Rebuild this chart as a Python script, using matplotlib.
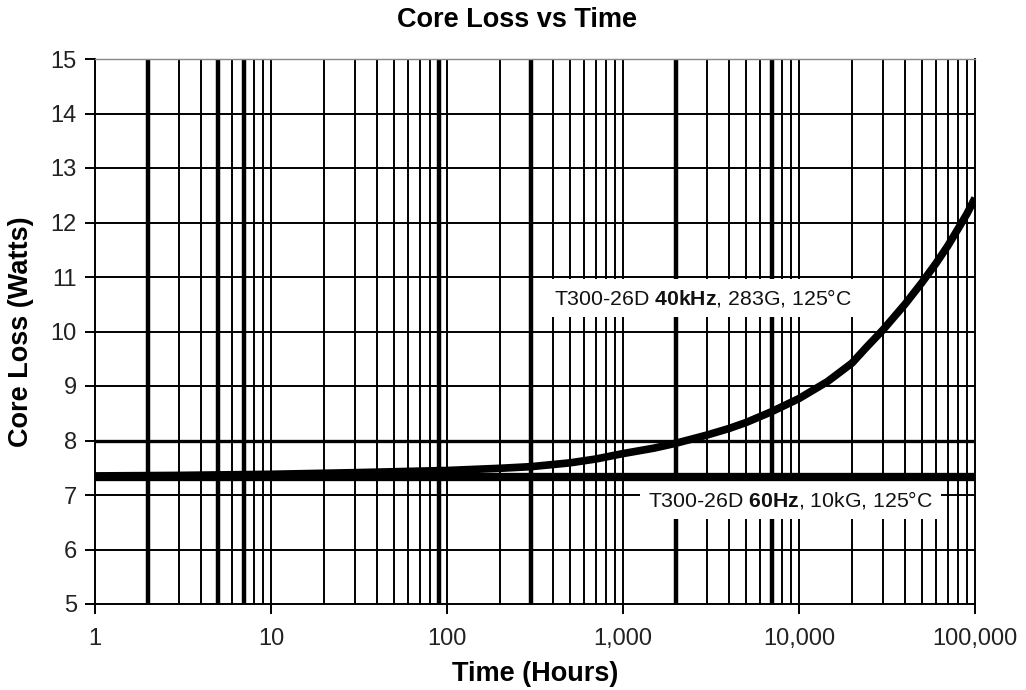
import matplotlib
matplotlib.use("Agg")
import matplotlib.pyplot as plt

# ---- data ----
hours_40k = [1, 3, 10, 30, 100, 200, 300, 500, 700, 1000, 1500, 2000, 3000,
             4000, 5000, 7000, 10000, 14500, 20000, 24000, 30000, 40000, 50000,
             60000, 70000, 80000, 90000, 100000]
loss_40k = [7.35, 7.36, 7.38, 7.41, 7.45, 7.49, 7.52, 7.59, 7.66, 7.76, 7.86,
            7.95, 8.10, 8.22, 8.33, 8.53, 8.77, 9.08, 9.42, 9.70, 10.03, 10.50,
            10.90, 11.25, 11.57, 11.88, 12.16, 12.45]
hours_60 = [1, 100000]
loss_60 = [7.33, 7.33]

x_ticks = [1, 10, 100, 1000, 10000, 100000]
x_tick_labels = ["1", "10", "100", "1,000", "10,000", "100,000"]
y_ticks = [5, 6, 7, 8, 9, 10, 11, 12, 13, 14, 15]
heavy_x_grid = [2, 5, 7, 90, 300, 2000, 7000]
heavy_y_grid = [8]

label_40k = r"T300-26D $\mathbf{40kHz}$, 283G, 125°C"
label_60 = r"T300-26D $\mathbf{60Hz}$, 10kG, 125°C"
label_40k_pos = (2850, 10.61)
label_60_pos = (8900, 6.91)

# ---- style ----
plt.rcParams['font.family'] = ['Liberation Sans', 'DejaVu Sans']
plt.rcParams['mathtext.fontset'] = 'custom'
plt.rcParams['mathtext.rm'] = 'Liberation Sans'
plt.rcParams['mathtext.bf'] = 'Liberation Sans:bold'

fig = plt.figure(figsize=(10.26, 6.9), dpi=100)
ax = fig.add_axes([95 / 1026, 1 - 604 / 690, 880 / 1026, 545 / 690])
ax.set_xscale('log')
ax.set_xlim(1, 100000)
ax.set_ylim(5, 15)

# grid lines (log paper style)
grid_x = []
for d in [1, 10, 100, 1000, 10000]:
    for k in range(1, 10):
        v = k * d
        if v > 1:
            grid_x.append(v)
for v in grid_x:
    ax.axvline(v, color='black', lw=3.2 if v in heavy_x_grid else 1.4, zorder=1)
for v in y_ticks[1:-1]:
    ax.axhline(v, color='black', lw=2.4 if v in heavy_y_grid else 1.4, zorder=1)

# curves
ax.plot(hours_60, loss_60, color='black', lw=6, solid_capstyle='butt', zorder=4)
ax.plot(hours_40k, loss_40k, color='black', lw=5.5, solid_capstyle='butt',
        solid_joinstyle='round', zorder=4)

# labels on white boxes
box = dict(boxstyle='square,pad=0.38', fc='white', ec='none')
ax.text(*label_40k_pos, label_40k, ha='center', va='center', fontsize=15.3,
        color='#111111', bbox=box, zorder=3)
ax.text(*label_60_pos, label_60, ha='center', va='center', fontsize=15.3,
        color='#111111', bbox=box, zorder=3)

# ticks
ax.set_xticks(x_ticks)
ax.set_xticklabels(x_tick_labels)
ax.xaxis.set_minor_locator(matplotlib.ticker.NullLocator())
ax.set_yticks(y_ticks)
ax.tick_params(axis='both', which='major', direction='out', length=7, width=1.4,
               color='black', labelsize=17, labelcolor='#222222')
ax.tick_params(axis='x', pad=10)
ax.tick_params(axis='y', pad=6)

for s in ['left', 'bottom', 'right']:
    ax.spines[s].set_linewidth(1.4)
    ax.spines[s].set_color('black')
ax.spines['top'].set_linewidth(1.0)
ax.spines['top'].set_color('#888888')

ax.set_xlabel('Time (Hours)', fontsize=19.5, fontweight='bold', labelpad=8)
ax.set_ylabel('Core Loss (Watts)', fontsize=19.5, fontweight='bold', labelpad=12)
fig.text(517 / 1026, 1 - 20 / 690, 'Core Loss vs Time', fontsize=19.5,
         fontweight='bold', ha='center', va='center')

fig.savefig('out.png', dpi=100, facecolor='white')
